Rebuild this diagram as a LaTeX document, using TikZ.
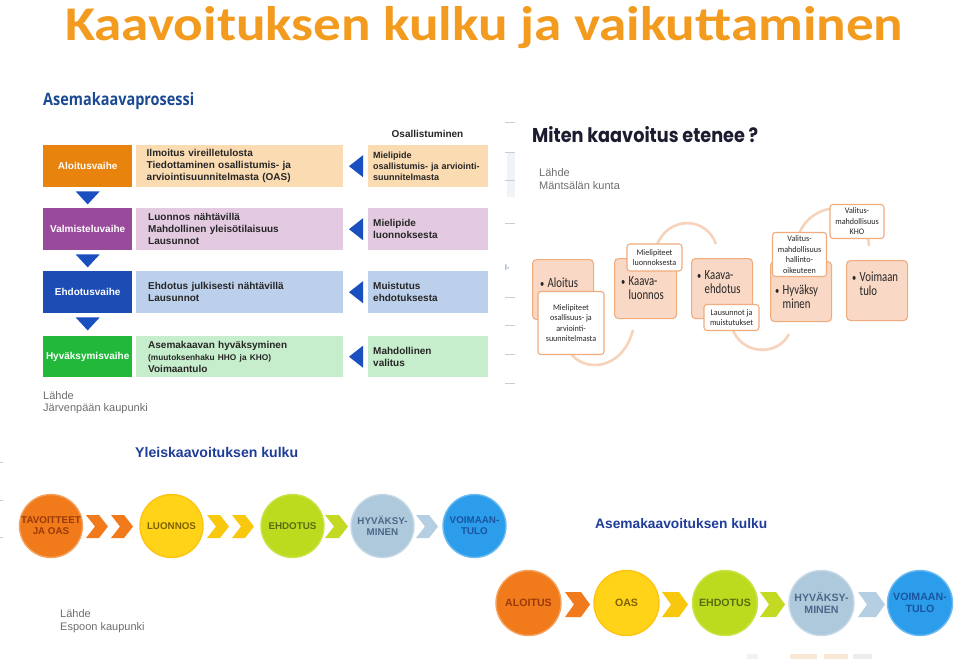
\documentclass[tikz,border=0pt]{standalone}
\usepackage{fontspec}
\setmainfont{Liberation Sans}
\newfontfamily\carl{Carlito}
\newfontfamily\calb[FakeStretch=0.77]{Carlito}
\newfontfamily\cals[FakeStretch=0.95]{Carlito}
\newfontfamily\popp{Poppins}
\newfontfamily\opsans{Open Sans}
\usetikzlibrary{shapes.geometric,calc}
\definecolor{ttlorange}{HTML}{F29B1E}
\definecolor{navy}{HTML}{1B4A94}
\definecolor{c1dark}{HTML}{E8830E}
\definecolor{c1light}{HTML}{FADBB2}
\definecolor{c2dark}{HTML}{994A9B}
\definecolor{c2light}{HTML}{E3CAE1}
\definecolor{c3dark}{HTML}{1C4DB4}
\definecolor{c3light}{HTML}{BCD0EC}
\definecolor{c4dark}{HTML}{22B93B}
\definecolor{c4light}{HTML}{C7EECC}
\definecolor{tri}{HTML}{1A4FC0}
\definecolor{txtdark}{HTML}{262626}
\definecolor{srcgray}{HTML}{6E6E6E}
\definecolor{mfill}{HTML}{F9D8C5}
\definecolor{mborder}{HTML}{F0AC7C}
\definecolor{arcc}{HTML}{F6D3BA}
\definecolor{mtitle}{HTML}{1C1C30}
\definecolor{blueT}{HTML}{1F3C98}
\definecolor{ballO}{HTML}{F17A1A}
\definecolor{ballY}{HTML}{FFD418}
\definecolor{ballG}{HTML}{BDDB1E}
\definecolor{ballS}{HTML}{AEC8DC}
\definecolor{ballB}{HTML}{2C9DEB}
\definecolor{txtO}{HTML}{9A3A0A}
\definecolor{txtY}{HTML}{7E6200}
\definecolor{txtG}{HTML}{566E10}
\definecolor{txtS}{HTML}{4A6888}
\definecolor{txtB}{HTML}{1A55A0}
\definecolor{tickgray}{HTML}{C8CCD4}
\definecolor{edgeband}{HTML}{F0F3F8}
\definecolor{edgetxt}{HTML}{5A78A8}
\definecolor{chevO}{HTML}{F07A1C}
\definecolor{chevY}{HTML}{F8C80E}
\definecolor{chevG}{HTML}{C4DA22}
\definecolor{chevS}{HTML}{B6CEE2}
\definecolor{markA}{HTML}{F2F2F2}
\definecolor{markB}{HTML}{FAE8D6}
\definecolor{markC}{HTML}{EDEDED}
\newcommand\chevron[5]{% x0, yc, halfheight, width, colour
  \fill[#5] (#1,#2-#3) -- (#1+#4-9,#2-#3) -- (#1+#4,#2) -- (#1+#4-9,#2+#3) -- (#1,#2+#3) -- (#1+9,#2) -- cycle;}
\newcommand\bul{\makebox[7.5pt][l]{\fontsize{11}{11}\selectfont•}}
\newcommand\bulind{\hspace*{7.5pt}}
\begin{document}
\begin{tikzpicture}[x=1pt,y=-1pt,
  phasebox/.style={anchor=north west, minimum width=89pt, minimum height=42pt, inner sep=0pt, text=white, font=\bfseries\fontsize{10}{12}\selectfont},
  descbox/.style={anchor=north west, minimum height=42pt, text width=186pt, inner xsep=10.5pt, inner ysep=0pt, align=left, text=txtdark, font=\bfseries\fontsize{10}{12}\selectfont},
  partbox/.style={anchor=north west, minimum height=42pt, text width=110pt, inner xsep=5pt, inner ysep=0pt, align=left, text=txtdark, font=\bfseries\fontsize{10}{12}\selectfont},
  srctext/.style={anchor=west, inner sep=0pt, text=srcgray, font=\fontsize{11}{13}\selectfont},
  mbox/.style={anchor=north west, draw=mborder, fill=mfill, rounded corners=4pt, line width=1.1pt, inner sep=0pt},
  mtext/.style={anchor=west, inner sep=0pt, align=left, text=txtdark, font=\calb\fontsize{14}{14}\selectfont},
  wbox/.style={draw=mborder, fill=white, rounded corners=3pt, line width=1.1pt, align=center, inner sep=0pt, text=txtdark, font=\cals\fontsize{8.5}{10.5}\selectfont},
  arcline/.style={draw=arcc, line width=2.6pt},
  ball/.style={circle, inner sep=0pt, line width=1.4pt, align=center},
  ballA/.style={ball, minimum size=63pt, font=\bfseries\fontsize{9.8}{11}\selectfont},
  ballB/.style={ball, minimum size=65pt, font=\bfseries\fontsize{10.6}{12}\selectfont},
  tick/.style={draw=tickgray, line width=0.8pt}
]
\useasboundingbox (0,0) rectangle (960,659);
\fill[white] (0,0) rectangle (960,659);

% ---------- main title
\node[anchor=base west, inner sep=0pt, text=ttlorange] (title) at (65,40)
  {\resizebox{838pt}{34pt}{\carl\bfseries Kaavoituksen kulku ja vaikuttaminen}};

% ---------- screenshot edge marks
\fill[edgeband] (507,152) rectangle (515,197);
\foreach \yy in {122,152,180,223,297,325,354,383}
  \draw[tick] (505,\yy) -- (515,\yy);
\foreach \yy in {462,500,537}
  \draw[tick] (0,\yy) -- (3,\yy);
\node[anchor=west, inner sep=0pt, text=edgetxt, font=\fontsize{8}{9}\selectfont] (edgemark) at (505,268) {l-};

% ---------- Asemakaavaprosessi (Järvenpää)
\node[anchor=base west, inner sep=0pt, text=navy] (aptitle) at (43,105)
  {\resizebox{151pt}{13pt}{\opsans\bfseries Asemakaavaprosessi}};
\node[inner sep=0pt, text=txtdark, font=\bfseries\fontsize{10}{12}\selectfont] (osall) at (427.5,134) {Osallistuminen};

\node[phasebox, fill=c1dark] (p1) at (43,145) {Aloitusvaihe};
\node[phasebox, fill=c2dark] (p2) at (43,208) {Valmisteluvaihe};
\node[phasebox, fill=c3dark] (p3) at (43,271) {Ehdotusvaihe};
\node[phasebox, fill=c4dark, minimum height=41pt] (p4) at (43,336) {Hyväksymisvaihe};

\node[descbox, fill=c1light] (d1) at (136,145) {Ilmoitus vireilletulosta\\Tiedottaminen osallistumis- ja\\arviointisuunnitelmasta (OAS)};
\node[descbox, fill=c2light] (d2) at (136,208) {\hspace*{1.5pt}Luonnos nähtävillä\\\hspace*{1.5pt}Mahdollinen yleisötilaisuus\\\hspace*{1.5pt}Lausunnot};
\node[descbox, fill=c3light] (d3) at (136,271) {\hspace*{1.5pt}Ehdotus julkisesti nähtävillä\\\hspace*{1.5pt}Lausunnot};
\node[descbox, fill=c4light, minimum height=41pt] (d4) at (136,336) {\hspace*{1.5pt}Asemakaavan hyväksyminen\\\hspace*{1.5pt}{\fontsize{8.3}{12}\selectfont (muutoksenhaku HHO ja KHO)}\\\hspace*{1.5pt}Voimaantulo};

\node[partbox, fill=c1light, font=\bfseries\fontsize{9}{11}\selectfont] (r1) at (368,145) {Mielipide\\osallistumis- ja arviointi-\\suunnitelmasta};
\node[partbox, fill=c2light] (r2) at (368,208) {Mielipide\\luonnoksesta};
\node[partbox, fill=c3light] (r3) at (368,271) {Muistutus\\ehdotuksesta};
\node[partbox, fill=c4light, minimum height=41pt] (r4) at (368,336) {Mahdollinen\\valitus};

% arrows: participation -> phase (left triangles)
\foreach \r in {r1,r2,r3,r4}
  \fill[tri] ($(\r.west)+(-19,0)$) -- ($(\r.west)+(-5,-11)$) -- ($(\r.west)+(-5,11)$) -- cycle;
% arrows: phase -> next phase (down triangles)
\foreach \a in {p1,p2,p3}
  \fill[tri] ($(\a.south)+(-12,4)$) -- ($(\a.south)+(12,4)$) -- ($(\a.south)+(0,17)$) -- cycle;

\node[srctext] (src1a) at (43,396) {Lähde};
\node[srctext] (src1b) at (43,409) {Järvenpään kaupunki};

% ---------- Miten kaavoitus etenee ? (Mäntsälä)
\node[anchor=base west, inner sep=0pt, text=mtitle] (mtitle) at (532,142)
  {\resizebox{226pt}{16pt}{\popp\bfseries Miten kaavoitus etenee ?}};
\node[srctext] (src2a) at (539,173) {Lähde};
\node[srctext] (src2b) at (539,186) {Mäntsälän kunta};

% circular arcs (behind the boxes)
\draw[arcline] (570,352) .. controls (582,372) and (622,372) .. (633,330);
\draw[arcline] (657,245) .. controls (668,216) and (706,216) .. (716,244);
\draw[arcline] (732,328) .. controls (742,356) and (778,356) .. (789,334);
\draw[arcline] (799,234) .. controls (812,200) and (866,196) .. (869,246);

\node[mbox, minimum width=61pt, minimum height=60pt] (m1) at (532,259) {};
\node[mbox, minimum width=62pt, minimum height=60pt] (m2) at (614,258) {};
\node[mbox, minimum width=61pt, minimum height=60pt] (m3) at (691,258) {};
\node[mbox, minimum width=61pt, minimum height=60pt] (m4) at (770,261) {};
\node[mbox, minimum width=61pt, minimum height=60pt] (m5) at (846,260) {};

\node[mtext] (m1t) at (540,283) {\bul Aloitus};
\node[mtext] (m2t) at (621,288) {\bul Kaava-\\\bulind luonnos};
\node[mtext] (m3t) at (697,282) {\bul Kaava-\\\bulind ehdotus};
\node[mtext] (m4t) at (775,297) {\bul Hyväksy\\\bulind minen};
\node[mtext] (m5t) at (852,283.5) {\bul Voimaan\\\bulind tulo};

\node[wbox, minimum width=66pt, minimum height=63pt] (w1) at (571,323) {Mielipiteet\\osallisuus- ja\\arviointi-\\suunnitelmasta};
\node[wbox, minimum width=55pt, minimum height=27pt] (w2) at (654.5,257.5) {Mielipiteet\\luonnoksesta};
\node[wbox, minimum width=55pt, minimum height=26pt] (w3) at (731.5,317.5) {Lausunnot ja\\muistutukset};
\node[wbox, minimum width=54pt, minimum height=44pt] (w4) at (799.5,254.5) {Valitus-\\mahdollisuus\\hallinto-\\oikeuteen};
\node[wbox, minimum width=54pt, minimum height=34pt] (w5) at (857,221.5) {Valitus-\\mahdollisuus\\KHO};

% ---------- Yleiskaavoituksen kulku (Espoo)
\node[anchor=base west, inner sep=0pt, text=blueT] (ytitle) at (135,457)
  {\resizebox{163pt}{!}{\bfseries Yleiskaavoituksen kulku}};
\node[ballA, fill=ballO, draw=ballO!70!white, text=txtO] (y1) at (51,526) {TAVOITTEET\\JA OAS};
\node[ballA, fill=ballY, draw=ballY!80!orange, text=txtY] (y2) at (171.5,526) {LUONNOS};
\node[ballA, fill=ballG, draw=ballG!80!white, text=txtG] (y3) at (292.5,526) {EHDOTUS};
\node[ballA, fill=ballS, draw=ballS!70!white, text=txtS] (y4) at (382.5,526) {HYVÄKSY-\\MINEN};
\node[ballA, fill=ballB, draw=ballB!70!white, text=txtB] (y5) at (474.5,526) {VOIMAAN-\\TULO};
\chevron{86}{526.5}{11.5}{22}{chevO}
\chevron{111}{526.5}{11.5}{22}{chevO}
\chevron{207}{526.5}{11.5}{22}{chevY}
\chevron{232}{526.5}{11.5}{22}{chevY}
\chevron{325}{526.5}{11.5}{23}{chevG}
\chevron{416}{526.5}{11.5}{22}{chevS}
\node[srctext] (src3a) at (60,614) {Lähde};
\node[srctext] (src3b) at (60,628) {Espoon kaupunki};

% ---------- Asemakaavoituksen kulku (Espoo)
\node[anchor=base west, inner sep=0pt, text=blueT] (atitle) at (595,528)
  {\resizebox{172pt}{!}{\bfseries Asemakaavoituksen kulku}};
\node[ballB, fill=ballO, draw=ballO!70!white, text=txtO] (a1) at (528.5,603) {ALOITUS};
\node[ballB, fill=ballY, draw=ballY!80!orange, text=txtY] (a2) at (626.5,603) {OAS};
\node[ballB, fill=ballG, draw=ballG!80!white, text=txtG] (a3) at (725,603) {EHDOTUS};
\node[ballB, fill=ballS, draw=ballS!70!white, text=txtS] (a4) at (821.5,603) {HYVÄKSY-\\MINEN};
\node[ballB, fill=ballB, draw=ballB!70!white, text=txtB] (a5) at (920,603) {VOIMAAN-\\TULO};
\chevron{565}{604.5}{12.5}{25}{chevO}
\chevron{662}{604.5}{12.5}{26}{chevY}
\chevron{760}{604.5}{12.5}{25}{chevG}
\chevron{858}{604.5}{12.5}{27}{chevS}

% faint marks at the bottom edge
\fill[markA] (747,654) rectangle (758,659);
\fill[markB] (790,654) rectangle (817,659);
\fill[markB] (824,654) rectangle (848,659);
\fill[markC] (853,654) rectangle (872,659);
\end{tikzpicture}
\end{document}
